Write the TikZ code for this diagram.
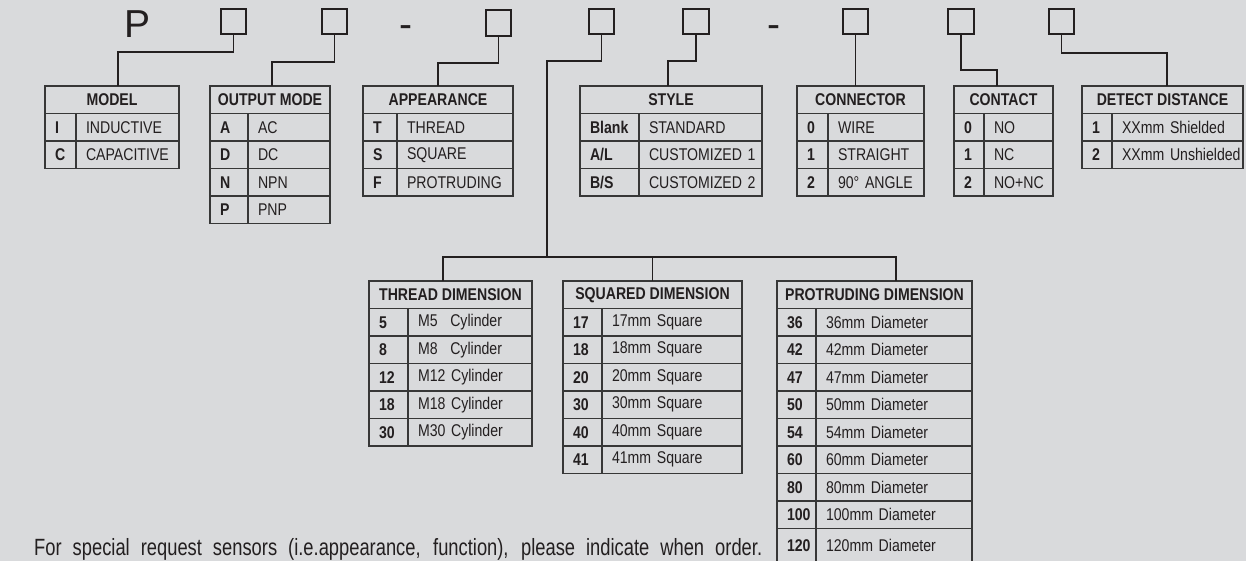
\documentclass[tikz,border=0pt]{standalone}
\usepackage{fontspec}
\setmainfont{Liberation Sans}
\newfontfamily\narrowfont[FakeStretch=0.83]{Liberation Sans}
\newfontfamily\notefont[FakeStretch=0.78]{Liberation Sans}
\usetikzlibrary{positioning,calc}
\definecolor{paper}{RGB}{217,218,220}
\definecolor{ink}{RGB}{35,31,32}
\definecolor{rule}{RGB}{55,55,55}

\begin{document}
\begin{tikzpicture}[
    x=1pt, y=-1pt,
    digit/.style={draw=ink, line width=1.8pt, minimum size=25.5pt, inner sep=0pt},
    bigchar/.style={anchor=base, inner sep=0pt, text=ink, font=\fontsize{39}{40}\selectfont},
    cell/.style={draw=rule, line width=1.6pt, outer sep=0pt, minimum height=27.5pt,
                 inner ysep=0pt, anchor=north west, text=ink,
                 font=\narrowfont\fontsize{17}{19}\selectfont},
    head/.style={cell, inner xsep=0pt, font=\narrowfont\bfseries\fontsize{17}{19}\selectfont},
    keycell/.style={cell, inner xsep=10pt, align=left,
                    font=\narrowfont\bfseries\fontsize{17}{19}\selectfont},
    valcell/.style={cell, inner xsep=10pt, align=left},
    wire/.style={draw=ink, line width=1.8pt}
  ]
    \fill[paper] (0,0) rectangle (1246,561);
    \useasboundingbox (0,0) rectangle (1246,561);

    % code line
    \node[bigchar] (prefix) at (138,38) {P};
    \node[bigchar] (dash1) at (406,38) {-};
    \node[bigchar] (dash2) at (774,38) {-};
    \foreach \n/\x/\y in {1/233.5/21.5, 2/334.5/21.5, 3/498.5/23, 4/601.5/21.5,
                          5/696/21.5, 6/855.5/21.5, 7/961/21.5, 8/1061.5/21.5}
      \node[digit] (b\n) at (\x,\y) {};

    % model
    \node[head, minimum width=134pt] (model) at (45,86) {MODEL};
    \foreach \k/\v [count=\i] in {I/INDUCTIVE, C/CAPACITIVE}{
      \node[keycell, text width=11pt] (model-k\i) at ($(model.south west)+(0,{27.5*(\i-1)})$) {\k};
      \node[valcell, text width=83pt] (model-v\i) at (model-k\i.north east) {\mbox{\v}};
    }

    % output mode
    \node[head, minimum width=120pt] (output) at (210,86) {OUTPUT MODE};
    \foreach \k/\v [count=\i] in {A/AC, D/DC, N/NPN, P/PNP}{
      \node[keycell, text width=18pt] (output-k\i) at ($(output.south west)+(0,{27.5*(\i-1)})$) {\k};
      \node[valcell, text width=62pt] (output-v\i) at (output-k\i.north east) {\mbox{\v}};
    }

    % appearance
    \node[head, minimum width=150pt] (appear) at (363,86) {APPEARANCE};
    \foreach \k/\v [count=\i] in {T/THREAD, S/SQUARE, F/PROTRUDING}{
      \node[keycell, text width=14pt] (appear-k\i) at ($(appear.south west)+(0,{27.5*(\i-1)})$) {\k};
      \node[valcell, text width=96pt] (appear-v\i) at (appear-k\i.north east) {\mbox{\v}};
    }

    % style
    \node[head, minimum width=182pt] (style) at (580,86) {STYLE};
    \foreach \k/\v [count=\i] in {Blank/STANDARD, {A/L}/CUSTOMIZED 1, {B/S}/CUSTOMIZED 2}{
      \node[keycell, text width=39pt] (style-k\i) at ($(style.south west)+(0,{27.5*(\i-1)})$) {\k};
      \node[valcell, text width=103pt] (style-v\i) at (style-k\i.north east) {\mbox{\v}};
    }

    % connector
    \node[head, minimum width=127pt] (conn) at (797,86) {CONNECTOR};
    \foreach \k/\v [count=\i] in {0/WIRE, 1/STRAIGHT, 2/90° ANGLE}{
      \node[keycell, text width=11pt] (conn-k\i) at ($(conn.south west)+(0,{27.5*(\i-1)})$) {\k};
      \node[valcell, text width=76pt] (conn-v\i) at (conn-k\i.north east) {\mbox{\v}};
    }

    % contact
    \node[head, minimum width=99pt] (contact) at (954,86) {CONTACT};
    \foreach \k/\v [count=\i] in {0/NO, 1/NC, 2/NO+NC}{
      \node[keycell, text width=10pt] (contact-k\i) at ($(contact.south west)+(0,{27.5*(\i-1)})$) {\k};
      \node[valcell, text width=49pt] (contact-v\i) at (contact-k\i.north east) {\mbox{\v}};
    }

    % detect distance
    \node[head, minimum width=161pt] (detect) at (1082,86) {DETECT DISTANCE};
    \foreach \k/\v [count=\i] in {1/XXmm Shielded, 2/XXmm Unshielded}{
      \node[keycell, text width=10pt] (detect-k\i) at ($(detect.south west)+(0,{27.5*(\i-1)})$) {\k};
      \node[valcell, text width=111pt] (detect-v\i) at (detect-k\i.north east) {\mbox{\v}};
    }

    % thread dimension
    \node[head, minimum width=163pt] (thread) at (369,281) {THREAD DIMENSION};
    \foreach \k/\v [count=\i] in {5/M5\hspace{7pt} Cylinder, 8/M8\hspace{7pt} Cylinder,
                                  12/M12 Cylinder, 18/M18 Cylinder, 30/M30 Cylinder}{
      \node[keycell, text width=19pt] (thread-k\i) at ($(thread.south west)+(0,{27.5*(\i-1)})$) {\k};
      \node[valcell, text width=104pt] (thread-v\i) at (thread-k\i.north east) {\mbox{\v}};
    }

    % squared dimension
    \node[head, minimum width=179pt] (squared) at (563,281) {SQUARED DIMENSION};
    \foreach \k [count=\i] in {17, 18, 20, 30, 40, 41}{
      \node[keycell, text width=19pt] (squared-k\i) at ($(squared.south west)+(0,{27.5*(\i-1)})$) {\k};
      \node[valcell, text width=120pt] (squared-v\i) at (squared-k\i.north east) {\mbox{\k mm Square}};
    }

    % protruding dimension
    \node[head, minimum width=195pt] (prot) at (777,281) {PROTRUDING DIMENSION};
    \foreach \k [count=\i] in {36, 42, 47, 50, 54, 60, 80, 100}{
      \node[keycell, text width=19pt] (prot-k\i) at ($(prot.south west)+(0,{27.5*(\i-1)})$) {\k};
      \node[valcell, text width=136pt] (prot-v\i) at (prot-k\i.north east) {\mbox{\k mm Diameter}};
    }
    \node[keycell, text width=19pt, minimum height=34pt] (prot-k9) at (prot-k8.south west) {120};
    \node[valcell, text width=136pt, minimum height=34pt] (prot-v9) at (prot-k9.north east) {\mbox{120mm Diameter}};

    % connectors
    \draw[wire] (b1.south) -- ++(0,17) -| ($(model.north)+(6,0)$);
    \draw[wire] (b2.south) -- ++(0,27) -| ($(output.north)+(2,0)$);
    \draw[wire] (b3.south) -- ++(0,26) -| (appear.north);
    \draw[wire] (b5.south) -- ++(0,26) -| ($(style.north)+(-3,0)$);
    \draw[wire] (b6.south) -- (b6.south |- conn.north);
    \draw[wire] (b7.south) -- ++(0,35) -| ($(contact.north)+(-6.5,0)$);
    \draw[wire] (b8.south) -- ++(0,18) -| ($(detect.north)+(4.5,0)$);

    \coordinate (hub) at (547,257);
    \draw[wire] (b4.south) -- ++(0,26) -| (hub);
    \draw[wire] ($(thread.north)+(-7.5,0)$) |- (hub) -| (squared.north);
    \draw[wire] (hub) -| ($(prot.north)+(21.5,0)$);

    % note
    \node[anchor=base west, inner sep=0pt, text=ink, font=\notefont\fontsize{23.5}{26}\selectfont] (note) at (34,555)
      {\makebox[728pt][s]{For special request sensors (i.e.appearance, function), please indicate when order.}};
  \end{tikzpicture}
\end{document}
